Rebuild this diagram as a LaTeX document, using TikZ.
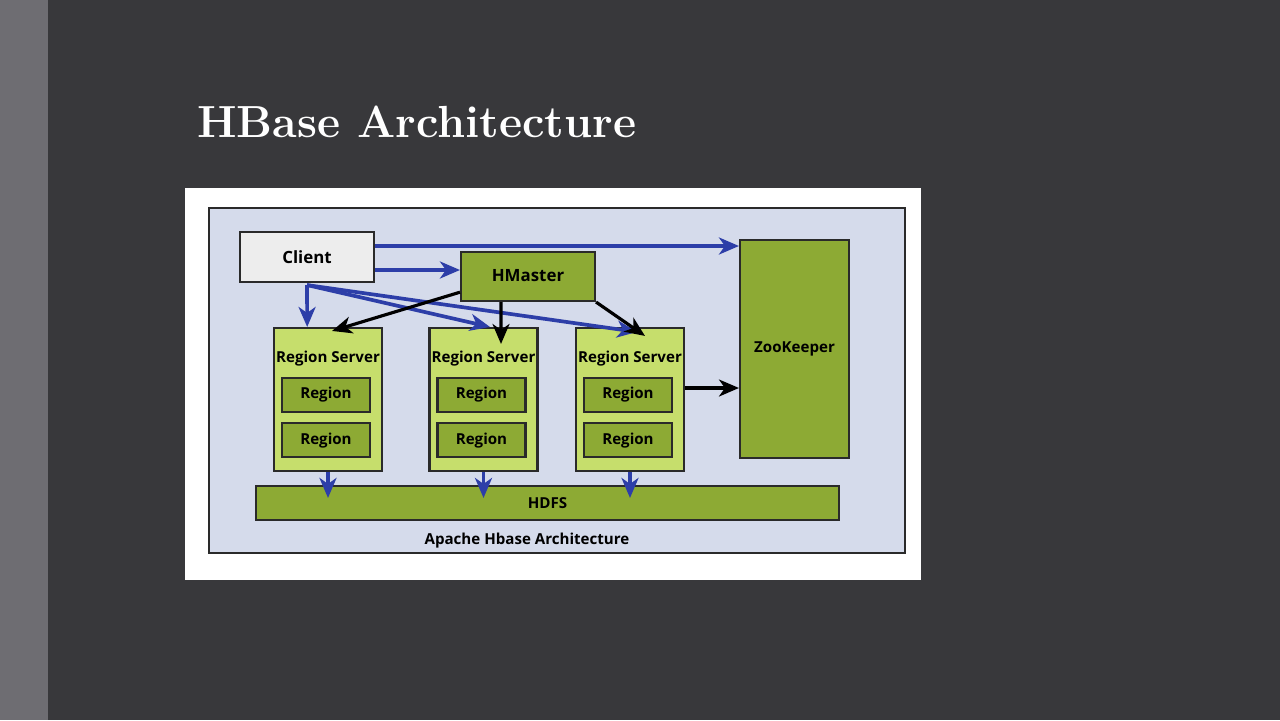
\documentclass[tikz,border=0pt]{standalone}
\usepackage{fontspec}
\newfontfamily\diagfont{Open Sans}
\usetikzlibrary{arrows.meta,positioning}

\definecolor{slide}{HTML}{38383B}
\definecolor{strip}{HTML}{6E6D72}
\definecolor{panel}{HTML}{D5DBEB}
\definecolor{olive}{HTML}{8DAA34}
\definecolor{lime}{HTML}{C6DE6C}
\definecolor{clientgray}{HTML}{EDEDED}
\definecolor{arrowblue}{HTML}{2D3EA8}
\definecolor{edge}{HTML}{2A2A2A}

\begin{document}
\begin{tikzpicture}[x=0.02cm,y=-0.02cm,
  box/.style={draw=edge,line width=1.2pt,inner sep=0pt,font=\diagfont\bfseries\fontsize{8.6}{11}\selectfont},
  server/.style={box,fill=lime,minimum width=2.16cm,minimum height=2.86cm},
  region/.style={box,fill=olive,minimum width=1.76cm,minimum height=0.68cm},
  rstext/.style={font=\diagfont\bfseries\fontsize{8.6}{11}\selectfont,anchor=center,yshift=-0.64cm},
  bluearrow/.style={draw=arrowblue,line width=2.1pt,-{Stealth[length=0.4cm,width=0.34cm,inset=0.12cm]}},
  blackarrow/.style={bluearrow,draw=black,line width=1.8pt}]
\useasboundingbox (0,0) rectangle (1280,720);
\fill[slide] (0,0) rectangle (1280,720);
\fill[strip] (0,0) rectangle (48,720);
\node[anchor=base west,text=white,font=\bfseries\fontsize{25.6}{30}\selectfont] (title) at (191,137) {HBase Architecture};

% diagram panel
\fill[white] (185,188) rectangle (921,580);
\draw[edge,fill=panel,line width=1.2pt] (209,208) rectangle (905,553);

\node[box,fill=clientgray,minimum width=2.68cm,minimum height=1cm,font=\diagfont\bfseries\fontsize{9.6}{12}\selectfont] (client) at (307,257) {Client};
\node[box,fill=olive,minimum width=2.68cm,minimum height=0.98cm,font=\diagfont\bfseries\fontsize{9.6}{12}\selectfont] (hm) at (528,276.5) {\raisebox{0.06cm}{HMaster}};
\node[box,fill=olive,minimum width=2.18cm,minimum height=4.36cm] (zk) at (794.5,349) {\raisebox{0.06cm}{ZooKeeper}};
\node[box,fill=olive,minimum width=11.66cm,minimum height=0.68cm] (hdfs) at (547.5,503) {HDFS};
\node[font=\diagfont\bfseries\fontsize{8.6}{11}\selectfont] (cap) at (527,540.5) {Apache Hbase Architecture};

\foreach \i/\x in {1/328,2/483.5,3/630} {
  \node[server,label={[rstext]north:Region Server}] (rs\i) at (\x,399.5) {};
  \node[region] (ra\i) at (\x-2,395) {Region};
  \node[region,below=0.18cm of ra\i] (rb\i) {Region};
  \draw[bluearrow] (rs\i.south) -- ([yshift=-0.26cm]rs\i.south |- hdfs.north);
}

% client requests
\draw[bluearrow] ([yshift=0.22cm]client.east) -- ([yshift=0.22cm]client.east -| zk.west);
\draw[bluearrow] ([yshift=-0.26cm]client.east) -- ([yshift=-0.26cm]client.east -| hm.west);
\draw[bluearrow] ([yshift=-0.04cm]client.south) -- (rs1.106);
\draw[bluearrow] ([yshift=-0.04cm]client.south) -- ([xshift=0.13cm]rs2.north);
\draw[bluearrow] ([yshift=-0.04cm]client.south) -- ([xshift=0.14cm,yshift=-0.1cm]rs3.north);

% master assigns regions
\draw[blackarrow] (hm.193) -- ([xshift=0.08cm,yshift=-0.08cm]rs1.north);
\draw[blackarrow] ([xshift=-0.54cm]hm.south) -- ([xshift=0.35cm,yshift=-0.34cm]rs2.north);
\draw[blackarrow] (hm.south east) -- ([xshift=0.3cm,yshift=-0.18cm]rs3.north);
\draw[blackarrow] ([yshift=0.23cm]rs3.east) -- ([yshift=0.23cm]rs3.east -| zk.west);
\end{tikzpicture}
\end{document}
